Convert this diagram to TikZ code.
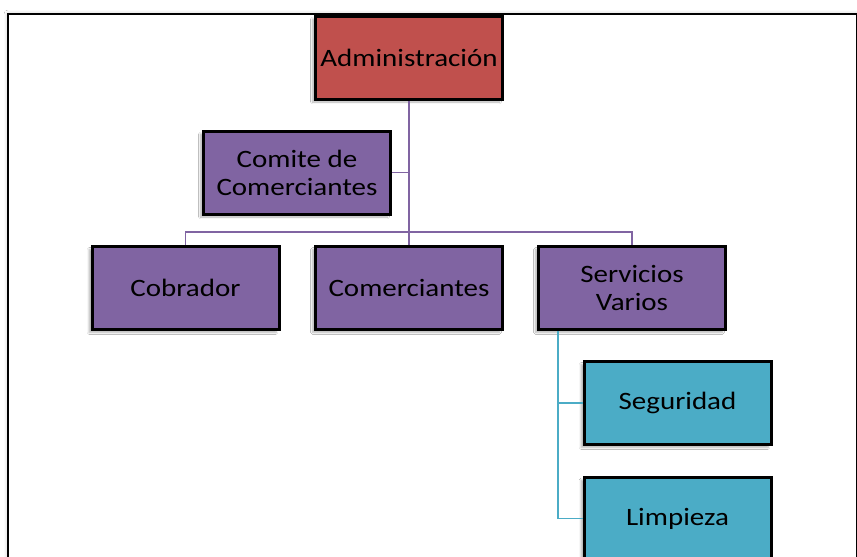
\documentclass[tikz,border=0pt]{standalone}
\usepackage{fontspec}
\setmainfont{Carlito}
\newfontfamily\boxfont[FakeStretch=1.16]{Carlito}
\usetikzlibrary{shadows.blur}
\definecolor{admred}{HTML}{C0504D}
\definecolor{purp}{HTML}{8064A2}
\definecolor{teal2}{HTML}{4BACC6}
\tikzset{
  box/.style={draw=black, line width=3pt, minimum width=187pt, minimum height=83pt,
    align=center, font=\boxfont\fontsize{25}{28}\selectfont, inner sep=2pt,
    blur shadow={shadow xshift=-3pt, shadow yshift=-3pt, shadow blur steps=6, shadow opacity=30}},
  redbox/.style={box, fill=admred},
  purbox/.style={box, fill=purp},
  tealbox/.style={box, fill=teal2},
  pline/.style={draw=purp, line width=1.8pt},
  tline/.style={draw=teal2, line width=1.8pt}
}
\begin{document}
\begin{tikzpicture}[x=1pt, y=-1pt]
\useasboundingbox (0,0) rectangle (857,557);
\clip (0,0) rectangle (857,557);
\fill[white] (0,0) rectangle (857,557);
\draw[black, line width=2.2pt, blur shadow={shadow xshift=0pt, shadow yshift=0pt, shadow blur radius=4pt, shadow opacity=25}, fill=white] (8,14) rectangle (857,575);
\coordinate (busy) at (0,232);
\coordinate (tx) at (558,0);
\node[redbox] (adm) at (409,57.5) {Administración};
\node[purbox] (comite) at (297,172.5) {Comite de\\Comerciantes};
\node[purbox] (cob) at (185.5,288) {Cobrador};
\node[purbox] (comer) at (409,288) {Comerciantes};
\node[purbox] (serv) at (632,288) {Servicios\\Varios};
\node[tealbox] (segu) at (677.5,403) {Seguridad};
\node[tealbox] (limp) at (677.5,518.5) {Limpieza};
\draw[pline] (adm.south) -- (comer.north);
\draw[pline] (comite.east) -- (comite.east -| adm.south);
\draw[pline] (cob.north) -- (cob.north |- busy) -- (serv.north |- busy) -- (serv.north);
\draw[tline] (tx |- serv.south) |- (segu.west);
\draw[tline] (tx |- serv.south) |- (limp.west);
\end{tikzpicture}
\end{document}
